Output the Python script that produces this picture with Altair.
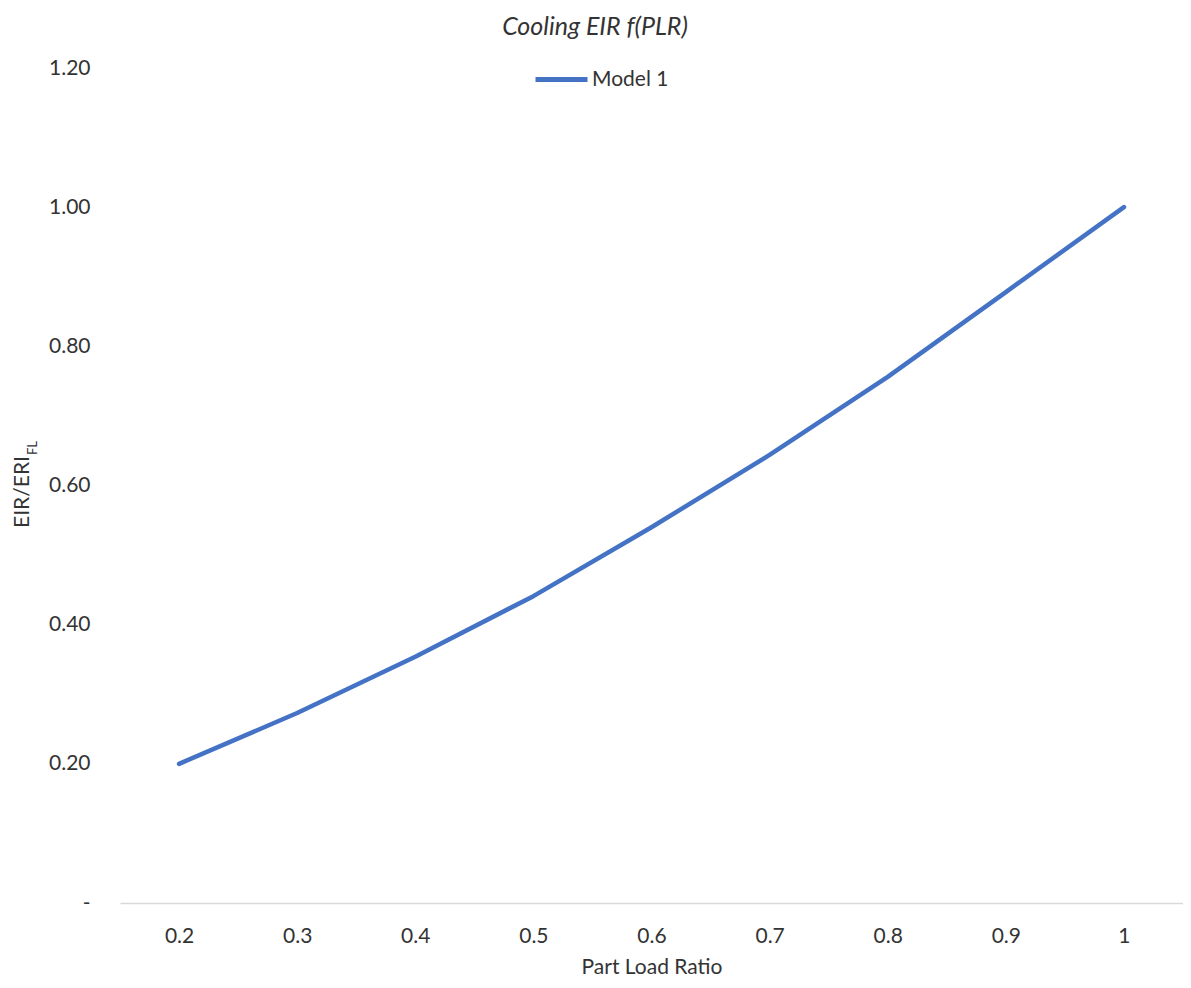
import altair as alt
import pandas as pd

plr = ["0.2", "0.3", "0.4", "0.5", "0.6", "0.7", "0.8", "0.9", "1"]
eir_ratio = [0.20, 0.273, 0.354, 0.441, 0.540, 0.644, 0.756, 0.878, 1.00]
series = ["Model 1"] * len(plr)

df = pd.DataFrame({"plr": plr, "eir": eir_ratio, "series": series})

FONT = "Lato"
TXT = "#333333"

line = alt.Chart(df).mark_line(strokeWidth=4.5, strokeCap="round", strokeJoin="round").encode(
    x=alt.X(
        "plr:O",
        sort=plr,
        scale=alt.Scale(type="point", padding=0.5),
        axis=alt.Axis(
            title="Part Load Ratio",
            labelAngle=0,
            labelFontSize=21,
            labelColor=TXT,
            labelFont=FONT,
            labelPadding=22,
            ticks=False,
            domainColor="#d9d9d9",
            domainWidth=1.5,
            titleFontSize=21,
            titleFontWeight="normal",
            titleColor=TXT,
            titleFont=FONT,
            titlePadding=10,
            grid=False,
        ),
    ),
    y=alt.Y(
        "eir:Q",
        scale=alt.Scale(domain=[0, 1.2], nice=False),
        axis=alt.Axis(
            title=None,
            values=[0, 0.2, 0.4, 0.6, 0.8, 1.0, 1.2],
            labelExpr="datum.value == 0 ? '-\u00a0\u00a0\u00a0' : format(datum.value, '.2f')",
            labelFontSize=21,
            labelColor=TXT,
            labelFont=FONT,
            labelPadding=30,
            ticks=False,
            domain=False,
            grid=False,
        ),
    ),
    color=alt.Color(
        "series:N",
        scale=alt.Scale(range=["#4472C4"]),
        legend=alt.Legend(
            title=None,
            orient="none",
            legendX=413,
            legendY=-17,
            symbolType="stroke",
            symbolSize=2704,
            symbolStrokeWidth=5,
            labelFontSize=21,
            labelColor=TXT,
            labelFont=FONT,
            labelOffset=2,
        ),
    ),
)

title = alt.Chart(pd.DataFrame({"a": [0]})).mark_text(
    text="Cooling EIR f(PLR)", fontSize=25, fontStyle="italic", font=FONT, color=TXT,
    align="center", baseline="middle",
).encode(x=alt.value(475), y=alt.value(-41))

ytitle = alt.Chart(pd.DataFrame({"a": [0]})).mark_text(
    text="EIR/ERI", fontSize=21, font=FONT, color=TXT, angle=270,
    align="center", baseline="middle",
).encode(x=alt.value(-97), y=alt.value(424))

ysub = alt.Chart(pd.DataFrame({"a": [0]})).mark_text(
    text="FL", fontSize=13, font=FONT, color=TXT, angle=270,
    align="center", baseline="middle",
).encode(x=alt.value(-87), y=alt.value(380))

chart = alt.layer(line, title, ytitle, ysub).properties(
    width=1063,
    height=835,
    autosize=alt.AutoSizeParams(type="none"),
    padding={"left": 112, "top": 60, "right": 0, "bottom": 77},
).configure(font=FONT).configure_view(stroke=None)

chart.save("out.html", embed_options={"renderer": "svg", "actions": False})
